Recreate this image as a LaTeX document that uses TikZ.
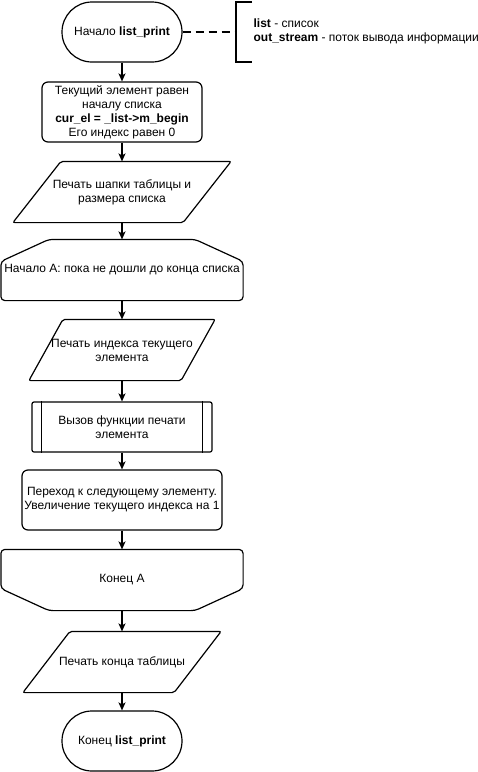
\documentclass[tikz,border=0pt]{standalone}
\usepackage{fontspec}
\setmainfont{Liberation Sans}
\usetikzlibrary{arrows.meta}
\begin{document}
\begin{tikzpicture}[x=1pt,y=-1pt,line width=1.2pt,
    every node/.style={font=\fontsize{12}{14}\selectfont,align=center,inner sep=0pt},
    term/.style={draw,rounded corners=30pt,minimum width=120pt,minimum height=60pt},
    proc/.style={draw,rounded corners=6pt,minimum height=60pt},
    blank/.style={minimum height=60pt},
    arr/.style={-{Stealth[length=8pt,width=7pt,inset=2pt]}}]
  \useasboundingbox (0,0) rectangle (478,772);

  \node[term] (start) at (122,32) {Начало \textbf{list\_print}};
  \node[proc,minimum width=160pt] (init) at (122,112)
    {Текущий элемент равен\\началу списка\\\textbf{cur\_el = \_list->m\_begin}\\Его индекс равен 0};

  \node[blank,minimum width=217pt] (head) at (122,192) {Печать шапки таблицы и\\размера списка};
  \draw[rounded corners=2pt] ([xshift=48pt]head.north west) -- (head.north east) --
    ([xshift=-48pt]head.south east) -- (head.south west) -- cycle;

  \node[blank,minimum width=241pt] (loopA) at (122,270) {Начало А: пока не дошли до конца списка};
  \draw[rounded corners=4pt] (loopA.south west) -- ([yshift=-22pt]loopA.north west) --
    ([xshift=48pt]loopA.north west) -- ([xshift=-48pt]loopA.north east) --
    ([yshift=-22pt]loopA.north east) -- (loopA.south east) -- cycle;

  \node[blank,minimum width=185pt] (idx) at (122,350) {Печать индекса текущего\\элемента};
  \draw[rounded corners=2pt] ([xshift=34pt]idx.north west) -- (idx.north east) --
    ([xshift=-34pt]idx.south east) -- (idx.south west) -- cycle;

  \node[draw,rounded corners=2pt,minimum width=180pt,minimum height=50pt] (call) at (122,427)
    {Вызов функции печати\\элемента};
  \draw ([xshift=10pt]call.north west) -- ([xshift=10pt]call.south west);
  \draw ([xshift=-10pt]call.north east) -- ([xshift=-10pt]call.south east);

  \node[proc,minimum width=200pt] (next) at (122,500)
    {Переход к следующему элементу.\\Увеличение текущего индекса на 1};

  \node[blank,minimum width=241pt] (loopB) at (122,580) {Конец А};
  \draw[rounded corners=4pt] (loopB.north west) -- ([yshift=22pt]loopB.south west) --
    ([xshift=48pt]loopB.south west) -- ([xshift=-48pt]loopB.south east) --
    ([yshift=22pt]loopB.south east) -- (loopB.north east) -- cycle;

  \node[blank,minimum width=197pt] (tail) at (122,662) {Печать конца таблицы};
  \draw[rounded corners=2pt] ([xshift=47pt]tail.north west) -- (tail.north east) --
    ([xshift=-47pt]tail.south east) -- (tail.south west) -- cycle;

  \node[term] (finish) at (122,741) {Конец \textbf{list\_print}};

  \draw[arr] (start) -- (init);
  \draw[arr] (init) -- (head);
  \draw[arr] (head) -- (loopA);
  \draw[arr] (loopA) -- (idx);
  \draw[arr] (idx) -- (call);
  \draw[arr] (call) -- (next);
  \draw[arr] (next) -- (loopB);
  \draw[arr] (loopB) -- (tail);
  \draw[arr] (tail) -- (finish);

  % comment to the start
  \coordinate (brk) at (236,32);
  \draw[dash pattern=on 8pt off 5pt] (start) -- (brk);
  \draw (252,2) -- (236,2) -- (236,62) -- (252,62);
  \node[anchor=west,align=left] (note) at (253,31)
    {\textbf{list} - список\\\textbf{out\_stream} - поток вывода информации};
\end{tikzpicture}
\end{document}
